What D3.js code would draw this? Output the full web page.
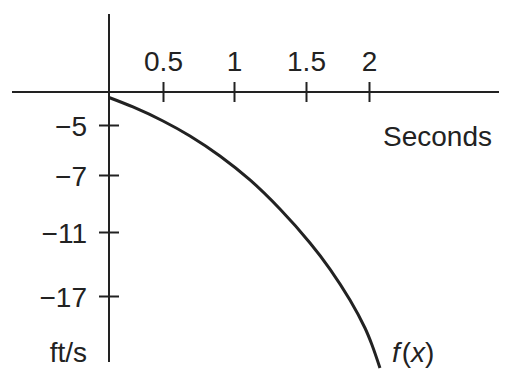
<!DOCTYPE html>
<html>
<head>
<meta charset="utf-8">
<script src="https://cdn.jsdelivr.net/npm/d3@7"></script>
<style>
  body { margin: 0; background: #fff; }
  svg text { font-family: "Liberation Sans", Arial, sans-serif; font-size: 28px; fill: #222; }
</style>
</head>
<body>
<div id="chart"></div>
<script>
// tick values shown on the axes
const xTicks = [0.5, 1, 1.5, 2];
const yTicks = [-5, -7, -11, -17];

// curve (seconds, ft/s on the figure's own schematic scale)
const seconds = [0, 0.222, 0.5, 0.69, 0.901, 1.111, 1.319, 1.532, 1.69, 1.849, 1.968, 2.024, 2.087];
const velocity = [-0.83, -2.27, -4.39, -5.44, -6.24, -7.35, -9.39, -12.03, -14.47, -17.38, -20.0, -21.59, -23.75];

const width = 509, height = 381;
const ink = '#222';

const svg = d3.select('#chart')
    .append('svg')
    .attr('width', width)
    .attr('height', height);

// the figure is schematic: tick spacing is uneven, so piecewise scales
const x = d3.scaleLinear()
    .domain([0, 0.5, 1, 1.5, 2])
    .range([109, 163, 234, 306, 369]);
const y = d3.scaleLinear()
    .domain([0, -5, -7, -11, -17])
    .range([92, 125, 175, 232, 296]);

// axis lines
svg.append('line')
    .attr('x1', 12).attr('x2', 499)
    .attr('y1', y(0)).attr('y2', y(0))
    .attr('stroke', ink).attr('stroke-width', 2);
svg.append('line')
    .attr('x1', x(0)).attr('x2', x(0))
    .attr('y1', 14).attr('y2', 362)
    .attr('stroke', ink).attr('stroke-width', 2);

// x axis
const gx = svg.append('g')
    .attr('transform', `translate(0,${y(0)})`)
    .call(d3.axisTop(x).tickValues(xTicks).tickSize(10).tickPadding(11.5).tickFormat(d => String(d)));
gx.select('.domain').remove();
gx.selectAll('.tick line').attr('y1', -10).attr('y2', 10).attr('stroke', ink).attr('stroke-width', 2);
gx.selectAll('.tick text').attr('font-size', null).attr('font-family', null).attr('dy', '0');

// y axis
const gy = svg.append('g')
    .attr('transform', `translate(${x(0)},0)`)
    .call(d3.axisLeft(y).tickValues(yTicks).tickSize(10).tickPadding(12).tickFormat(d => '\u2212' + Math.abs(d)));
gy.select('.domain').remove();
gy.selectAll('.tick line').attr('x1', -10).attr('x2', 10).attr('stroke', ink).attr('stroke-width', 2);
gy.selectAll('.tick text').attr('font-size', null).attr('font-family', null).attr('dy', '0.375em');

// curve
const data = seconds.map((s, i) => ({s, v: velocity[i]}));
svg.append('path')
    .datum(data)
    .attr('fill', 'none')
    .attr('stroke', ink)
    .attr('stroke-width', 3)
    .attr('d', d3.line().x(d => x(d.s)).y(d => y(d.v)).curve(d3.curveCatmullRom));

// labels
svg.append('text')
    .attr('x', 492).attr('y', 146)
    .attr('text-anchor', 'end')
    .text('Seconds');
svg.append('text')
    .attr('x', 87).attr('y', 362)
    .attr('text-anchor', 'end')
    .text('ft/s');

const fx = svg.append('text').attr('x', 392).attr('y', 362);
fx.append('tspan').attr('font-style', 'italic').text('f');
fx.append('tspan').attr('dx', 2).text('(');
fx.append('tspan').attr('font-style', 'italic').text('x');
fx.append('tspan').text(')');
</script>
</body>
</html>
